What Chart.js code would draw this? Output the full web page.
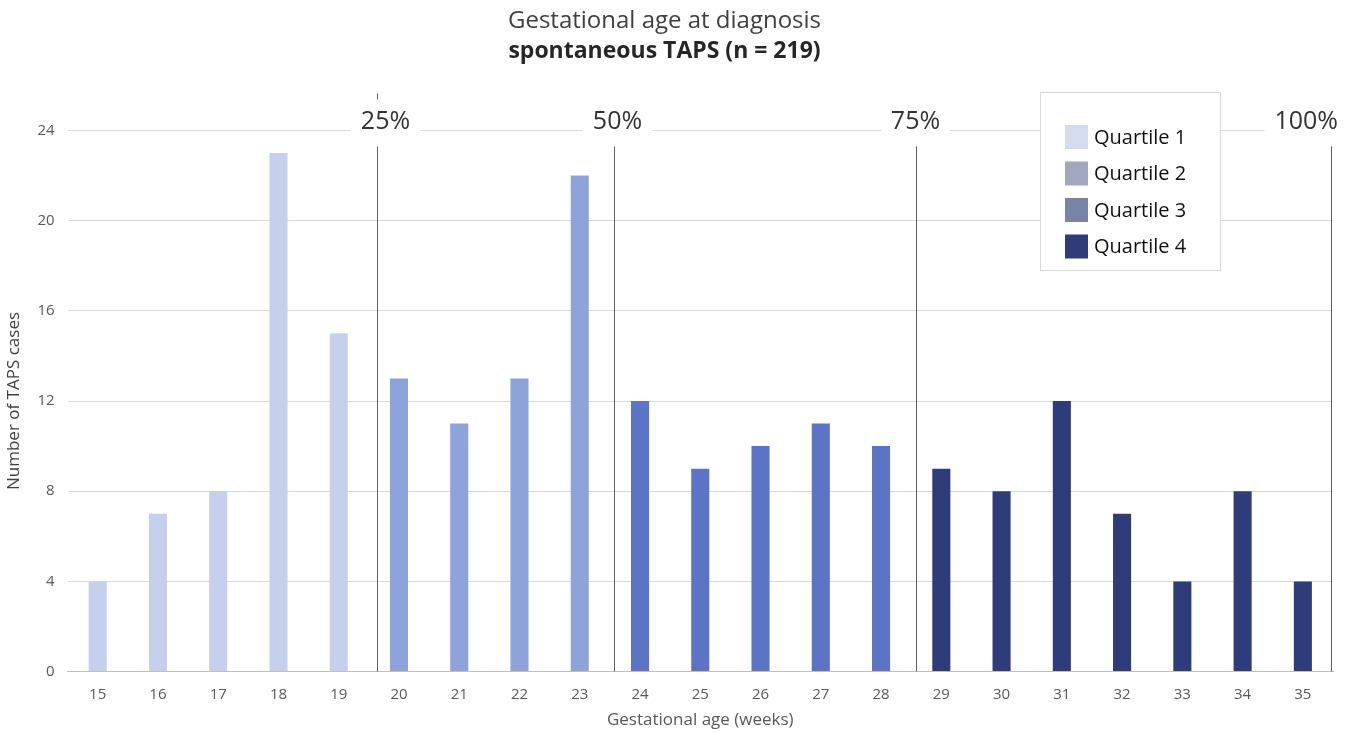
<!DOCTYPE html>
<html>
<head>
<meta charset="utf-8">
<script src="https://cdn.jsdelivr.net/npm/chart.js@4/dist/chart.umd.min.js"></script>
<style>
  html, body { margin: 0; padding: 0; background: #fff; }
  #wrap { width: 1356px; height: 732px; }
</style>
</head>
<body>
<div id="wrap"><canvas id="chart"></canvas></div>
<script>
// data
const weeks = ['15','16','17','18','19','20','21','22','23','24','25','26','27','28','29','30','31','32','33','34','35'];
const cases = [4, 7, 8, 23, 15, 13, 11, 13, 22, 12, 9, 10, 11, 10, 9, 8, 12, 7, 4, 8, 4];
const quartileOfWeek = [1,1,1,1,1, 2,2,2,2, 3,3,3,3,3, 4,4,4,4,4,4,4];
const quartileNames = ['Quartile 1', 'Quartile 2', 'Quartile 3', 'Quartile 4'];
const dividerAfter = ['19', '23', '28', '35'];
const dividerLabels = ['25%', '50%', '75%', '100%'];

const barColors = ['#c5d0ec', '#8ea3da', '#5b74c6', '#2e3d79'];
const legendColors = ['#d5dbf0', '#a2a7bf', '#7884a3', '#2e3d79'];
const FONT = '"Open Sans", sans-serif';

// quartile boundary lines with their % labels
const dividerPlugin = {
  id: 'dividers',
  afterDatasetsDraw(chart) {
    const { ctx, chartArea, scales } = chart;
    const x = scales.x;
    const lineShift = [8, 4, 5, 0];   // lines sit a bit right of the gap centre
    const labelShift = [8, 3, -1, 0];
    ctx.save();
    ctx.font = '25px ' + FONT;
    ctx.textAlign = 'center';
    ctx.textBaseline = 'middle';
    dividerAfter.forEach((wk, i) => {
      const idx = weeks.indexOf(wk);
      let lx;
      if (idx === weeks.length - 1) {
        lx = chartArea.right - 2;
      } else {
        lx = (x.getPixelForValue(idx) + x.getPixelForValue(idx + 1)) / 2 + lineShift[i];
      }
      lx = Math.round(lx) + 0.5;
      const labelY = chartArea.top - 9;
      ctx.strokeStyle = '#5f5f5f';
      ctx.lineWidth = 1;
      ctx.beginPath();
      ctx.moveTo(lx, labelY + 25);
      ctx.lineTo(lx, chartArea.bottom);
      if (i === 0) {
        // little stub above the first label
        ctx.moveTo(lx, labelY - 28);
        ctx.lineTo(lx, labelY - 22);
      }
      ctx.stroke();
      const text = dividerLabels[i];
      const w = ctx.measureText(text).width;
      let tx = lx + labelShift[i];
      if (tx + w / 2 > chart.width - 18) tx = chart.width - 18 - w / 2;
      ctx.fillStyle = '#fff';
      ctx.fillRect(tx - w / 2 - 10, labelY - 14, w + 20, 28);
      ctx.fillStyle = '#333';
      ctx.fillText(text, tx, labelY);
    });
    ctx.restore();
  }
};

// boxed legend with its own (greyer) swatch colours
const legendPlugin = {
  id: 'boxLegend',
  afterDraw(chart) {
    const { ctx } = chart;
    const bx = 1040, by = 92, bw = 180, bh = 178;
    ctx.save();
    ctx.fillStyle = '#fff';
    ctx.fillRect(bx, by, bw, bh);
    ctx.strokeStyle = '#d9d9d9';
    ctx.lineWidth = 1;
    ctx.strokeRect(bx + 0.5, by + 0.5, bw, bh);
    ctx.font = '20px ' + FONT;
    ctx.textBaseline = 'middle';
    quartileNames.forEach((name, i) => {
      const cy = by + 45 + i * 36.5;
      ctx.fillStyle = legendColors[i];
      ctx.fillRect(bx + 25, cy - 12, 23, 24);
      ctx.fillStyle = '#111';
      ctx.fillText(name, bx + 54, cy + 1);
    });
    ctx.restore();
  }
};

new Chart(document.getElementById('chart'), {
  type: 'bar',
  data: {
    labels: weeks,
    datasets: [{
      label: 'TAPS cases',
      data: cases,
      backgroundColor: quartileOfWeek.map(q => barColors[q - 1]),
      barPercentage: 0.3,
      categoryPercentage: 1
    }]
  },
  options: {
    responsive: true,
    maintainAspectRatio: false,
    animation: false,
    layout: { padding: { left: -4, right: 23, top: 0, bottom: 0 } },
    plugins: {
      legend: { display: false },
      tooltip: { enabled: false },
      title: {
        display: true,
        text: 'Gestational age at diagnosis',
        color: '#404040',
        font: { family: FONT, size: 24, weight: 'normal' },
        padding: { top: 7, bottom: 2 }
      },
      subtitle: {
        display: true,
        text: 'spontaneous TAPS (n = 219)',
        color: '#262626',
        font: { family: FONT, size: 23, weight: 'bold' },
        padding: { bottom: 65 }
      }
    },
    scales: {
      x: {
        grid: { display: false },
        border: { color: '#bfbfbf' },
        ticks: { color: '#595959', font: { family: FONT, size: 15 }, padding: 6 },
        title: {
          display: true,
          text: 'Gestational age (weeks)',
          color: '#595959',
          font: { family: FONT, size: 17 },
          padding: { top: 0, bottom: 2 }
        }
      },
      y: {
        min: 0,
        max: 24,
        ticks: { stepSize: 4, color: '#595959', font: { family: FONT, size: 15 }, padding: 13 },
        grid: { color: '#d9d9d9', drawTicks: false },
        border: { display: false },
        title: {
          display: true,
          text: 'Number of TAPS cases',
          color: '#404040',
          font: { family: FONT, size: 17 },
          padding: { top: 8, bottom: 0 }
        }
      }
    }
  },
  plugins: [dividerPlugin, legendPlugin]
});
</script>
</body>
</html>
